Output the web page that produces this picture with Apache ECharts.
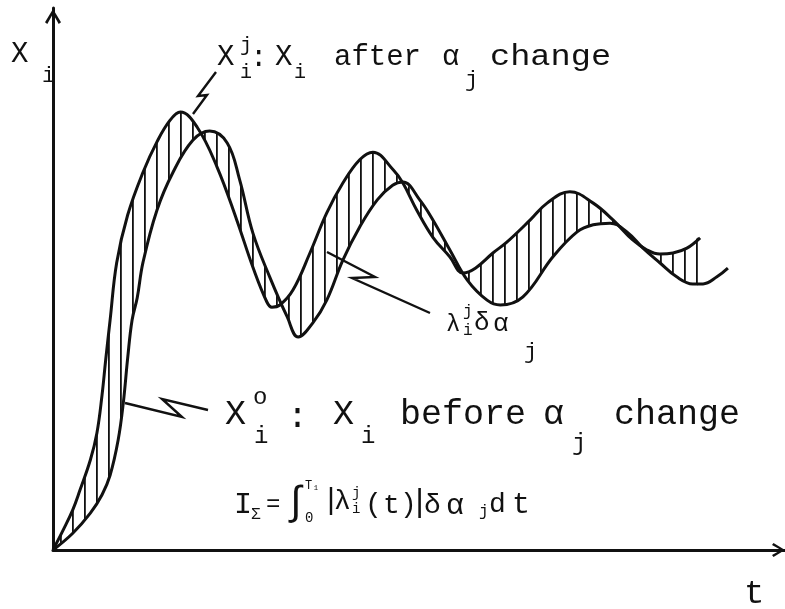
<!DOCTYPE html>
<html>
<head>
<meta charset="utf-8">
<script src="https://cdn.jsdelivr.net/npm/echarts@6/dist/echarts.min.js"></script>
<style>
  html, body { margin: 0; padding: 0; background: #fff; }
  #chart { width: 785px; height: 609px; }
</style>
</head>
<body>
<div id="chart"></div>
<script>
// Response X_i after the alpha_j change (t, X)
const afterT = [0, 1.4, 2.7, 3.7, 5.1, 6.0, 6.7, 7.2, 7.8, 8.7, 10.2, 12.3, 14.2, 16.0, 17.4, 19.7, 22.4, 25.1, 27.3, 29.2, 29.9, 31.0, 32.8, 35.1, 37.4, 39.6, 41.9, 43.7, 46.5, 47.8, 49.7, 51.9, 54.2, 56.0, 57.7, 60.1, 62.0, 65.2, 67.5, 70.6, 73.8, 76.5, 79.2, 81.1, 82.9, 84.7, 86.6, 88.4];
const afterX = [0, 3.7, 7.4, 11.1, 16.6, 21.6, 28.6, 35.1, 42.4, 53.0, 61.8, 69.7, 75.3, 79.3, 80.8, 78.0, 70.7, 60.9, 52.2, 45.8, 44.8, 45.2, 48.0, 54.8, 62.2, 67.7, 72.0, 73.4, 70.1, 67.7, 62.7, 57.7, 54.1, 51.1, 52.0, 54.8, 56.8, 60.9, 64.0, 66.1, 64.0, 60.9, 57.2, 55.4, 54.6, 54.8, 55.7, 57.6];

// Response X_i before the alpha_j change (t, X)
const beforeT = [0, 2.7, 5.1, 6.7, 7.8, 8.9, 9.6, 10.2, 10.8, 11.5, 12.3, 14.2, 16.4, 19.1, 21.4, 23.8, 25.5, 27.3, 29.6, 32.0, 33.5, 35.5, 37.4, 39.6, 41.9, 44.3, 46.4, 47.8, 50.1, 51.9, 54.2, 56.6, 59.3, 61.1, 64.2, 68.3, 71.6, 73.8, 76.1, 78.4, 80.6, 82.9, 85.2, 87.4, 88.8, 90.7, 92.2];
const beforeX = [0, 3.1, 6.8, 10.2, 13.8, 20.3, 27.1, 35.4, 42.4, 46.5, 53.1, 62.7, 69.7, 75.6, 77.3, 75.1, 68.3, 58.5, 50.4, 43.0, 39.3, 41.9, 46.1, 53.5, 59.6, 64.6, 67.3, 67.9, 64.6, 60.9, 55.4, 49.8, 46.1, 45.2, 46.7, 54.1, 58.7, 60.0, 60.3, 58.7, 55.7, 53.0, 50.4, 49.1, 49.1, 50.4, 52.0];

const INK = '#111';
const MONO = '"Liberation Mono", "DejaVu Sans Mono", monospace';
const SMOOTH = 0.4;

const pairs = (ts, xs) => ts.map((t, i) => [t, xs[i]]);
const afterData = pairs(afterT, afterX);
const beforeData = pairs(beforeT, beforeX);

// vertical hatch tile used to shade the gap between the two responses
function makeHatch() {
  const c = document.createElement('canvas');
  c.width = 12; c.height = 4;
  const g = c.getContext('2d');
  g.fillStyle = INK;
  g.fillRect(0, 0, 1.8, 4);
  return { type: 'pattern', image: c, repeat: 'repeat' };
}
const hatch = makeHatch();

// open chevron arrow head, pointing up before the axis rotates it
const CHEVRON = 'path://M7,0L14,11.5L12,13L7,4L2,13L0,11.5Z';

function axis(size) {
  return {
    type: 'value', min: 0, max: 100,
    axisLine: {
      show: true,
      lineStyle: { color: INK, width: 3 },
      symbol: ['none', CHEVRON],
      symbolSize: size,
      symbolOffset: [0, -size[1] / 2]
    },
    axisTick: { show: false },
    axisLabel: { show: false },
    splitLine: { show: false }
  };
}

function txt(text, x, y, size, sx) {
  const el = {
    type: 'text', x: x, y: y, silent: true,
    style: {
      text: text, fill: INK,
      font: size + 'px ' + MONO,
      textAlign: 'left', textVerticalAlign: 'middle',
      align: 'left', verticalAlign: 'middle'
    }
  };
  if (sx) el.scaleX = sx;
  return el;
}

function leader(points) {
  return {
    type: 'polyline', silent: true,
    shape: { points: points },
    style: { stroke: INK, lineWidth: 2.4, fill: null, lineJoin: 'miter' }
  };
}

const labels = [
  // axis names
  txt('X', 11, 54, 29), txt('i', 42, 76, 22),
  txt('t', 744, 594, 34),

  // X_i^j : X_i after alpha_j change
  txt('X', 217, 57, 29), txt('j', 240, 46, 20), txt('i', 240, 73, 20),
  txt(':', 250, 58, 29),
  txt('X', 275, 57, 29), txt('i', 294, 73, 20),
  txt('after', 334, 57, 29),
  txt('\u03b1', 442, 57, 29), txt('j', 465, 80, 22),
  txt('change', 490, 57, 29, 1.16),

  // lambda_i^j delta alpha_j
  txt('\u03bb', 446, 325, 24), txt('j', 463, 312, 16), txt('i', 463, 331, 16),
  txt('\u03b4', 474, 323, 26), txt('\u03b1', 493, 324, 26), txt('j', 524, 352, 22),

  // X_i^o : X_i before alpha_j change
  txt('X', 225, 415, 35), txt('o', 253, 398, 24), txt('i', 254, 437, 24),
  txt(':', 287, 418, 35),
  txt('X', 333, 415, 35), txt('i', 361, 437, 24),
  txt('before', 400, 415, 35),
  txt('\u03b1', 543, 415, 35), txt('j', 572, 444, 24),
  txt('change', 614, 415, 35),

  // I_Sigma = integral_0^T1 |lambda_i^j(t)| delta alpha_j dt
  txt('I', 234, 505, 30), txt('\u03a3', 251, 515, 16), txt('=', 266, 505, 24),
  txt('\u222b', 284, 503, 40), txt('T\u2081', 305, 486, 12), txt('0', 305, 518, 14),
  txt('|', 322, 501, 30), txt('\u03bb', 334, 502, 28), txt('j', 352, 493, 14), txt('i', 352, 509, 14),
  txt('(', 365, 505, 28), txt('t', 383, 506, 28), txt(')', 400, 505, 28),
  txt('|', 410, 503, 32), txt('\u03b4', 424, 506, 28), txt('\u03b1', 446, 506, 30),
  txt('j', 479, 512, 16),
  txt('d', 489, 505, 28), txt('t', 512, 505, 30),

  // callout zigzags
  leader([[216, 72], [198, 96], [207, 95], [193, 114]]),
  leader([[327, 252], [375, 277], [352, 278], [430, 313]]),
  leader([[125, 403], [182, 417], [162, 399], [208, 410]])
];

const chart = echarts.init(document.getElementById('chart'), null, { renderer: 'canvas' });
chart.setOption({
  backgroundColor: '#fff',
  animation: false,
  grid: { left: 53, right: 0, top: 8, bottom: 59, containLabel: false },
  xAxis: axis([15, 13]),
  yAxis: axis([16, 17]),
  series: [
    {
      // hatched band between the two responses
      type: 'custom',
      coordinateSystem: 'cartesian2d',
      silent: true,
      z: 1,
      data: [[0, 0]],
      renderItem: function (params, api) {
        const tEnd = afterT[afterT.length - 1];
        const top = afterData.map(p => api.coord(p));
        const bottom = beforeData.filter(p => p[0] <= tEnd + 0.5).map(p => api.coord(p)).reverse();
        return {
          type: 'polygon',
          shape: { points: top.concat(bottom), smooth: SMOOTH },
          style: { fill: hatch, stroke: null }
        };
      }
    },
    {
      name: 'after', type: 'line', data: afterData, smooth: SMOOTH,
      symbol: 'none', z: 3, silent: true,
      lineStyle: { color: INK, width: 3 }
    },
    {
      name: 'before', type: 'line', data: beforeData, smooth: SMOOTH,
      symbol: 'none', z: 3, silent: true,
      lineStyle: { color: INK, width: 3 }
    }
  ],
  graphic: labels
});
</script>
</body>
</html>
